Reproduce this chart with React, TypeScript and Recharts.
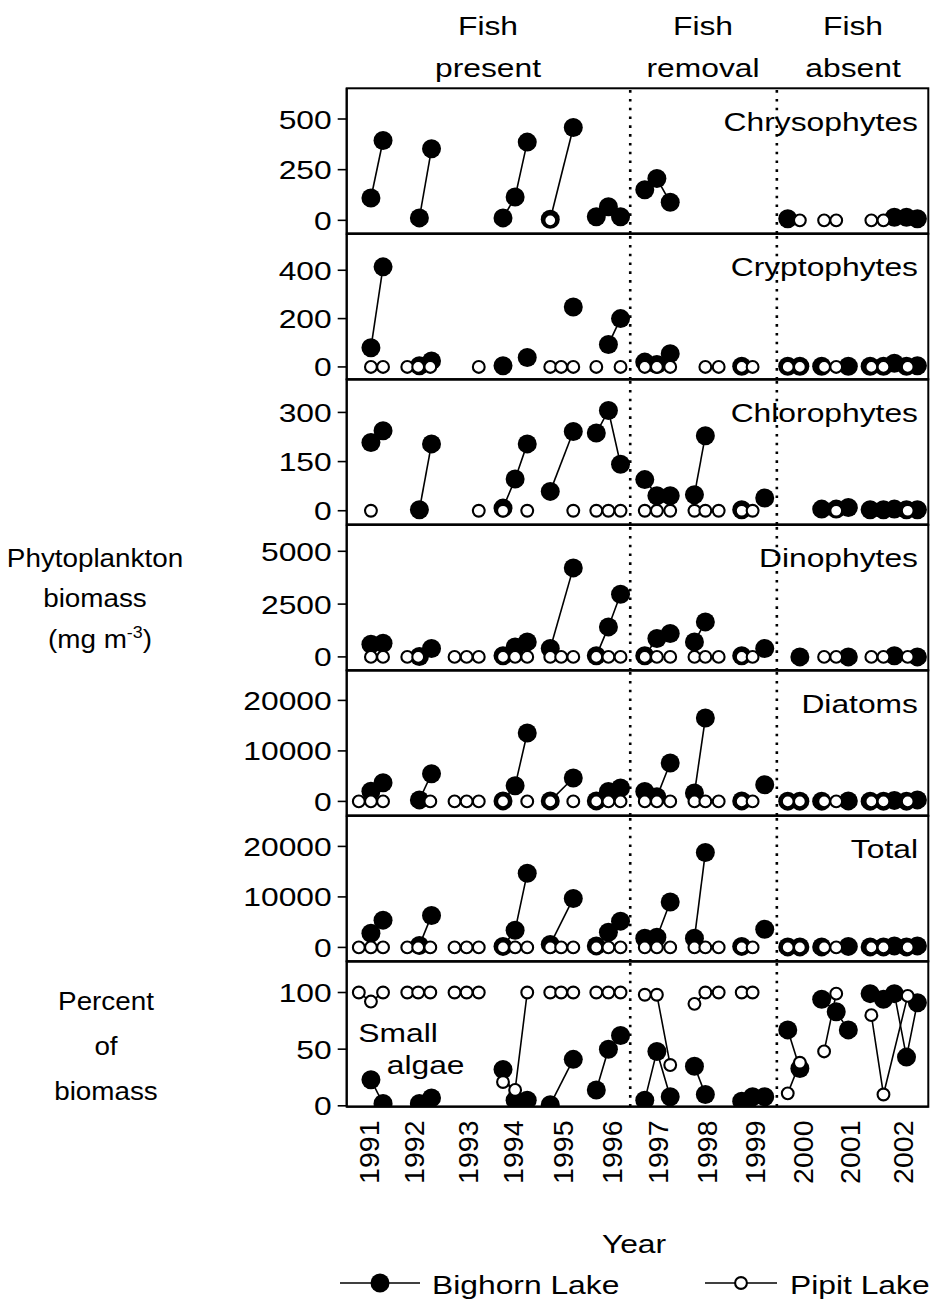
import React from 'react';
import { ScatterChart, Scatter, XAxis, YAxis, ReferenceLine } from 'recharts';

const FONT = '"Liberation Sans", Arial, Helvetica, sans-serif';
const FS = 26.5;
const SX = 1.2;
const N = null;

// sampling times on the shared time axis: one unit = one tick (a quarter year), 0 = mid 1990
const bighornYear = [1991, 1991, 1992, 1992, 1994, 1994, 1994, 1995, 1995, 1996, 1996, 1996, 1997, 1997, 1997, 1998, 1998, 1999, 1999, 1999, 2000, 2000, 2001, 2001, 2001, 2002, 2002, 2002, 2002, 2002];
const bighornTime = [2.0, 3.0, 6.0, 7.0, 12.9, 13.9, 14.9, 16.8, 18.7, 20.6, 21.6, 22.6, 24.6, 25.6, 26.7, 28.7, 29.6, 32.6, 33.5, 34.5, 36.4, 37.4, 39.2, 40.4, 41.4, 43.2, 44.3, 45.2, 46.2, 47.1];
const pipitYear = [1991, 1991, 1991, 1992, 1992, 1992, 1993, 1993, 1993, 1994, 1994, 1994, 1995, 1995, 1995, 1996, 1996, 1996, 1997, 1997, 1997, 1998, 1998, 1998, 1999, 1999, 2000, 2000, 2001, 2001, 2002, 2002, 2002];
const pipitTime = [1.0, 2.0, 3.0, 5.0, 5.9, 6.9, 8.9, 9.9, 10.9, 12.9, 13.9, 14.9, 16.8, 17.7, 18.7, 20.6, 21.6, 22.6, 24.6, 25.6, 26.7, 28.7, 29.6, 30.7, 32.6, 33.5, 36.4, 37.4, 39.4, 40.4, 43.3, 44.3, 46.3];

// x axis
const slotTicks = Array.from({ length: 49 }, (_, i) => i);
const yearLabels = ['1991', '1992', '1993', '1994', '1995', '1996', '1997', '1998', '1999', '2000', '2001', '2002'];
const yearLabelTime = [1.8, 5.5, 10.0, 13.7, 17.8, 21.9, 25.7, 29.7, 33.7, 37.6, 41.5, 45.9];
const periodBreaks = [23.4, 35.5];

// biomass, mg m-3 (null = not plotted)
const chrysoBighorn = [110, 394, 12, 353, 12, 115, 386, 5, 458, 18, 67, 18, 151, 206, 89, N, N, N, N, N, 8, N, N, N, N, N, N, 15, 15, 8];
const chrysoPipit = [N, N, N, N, N, N, N, N, N, N, N, N, 0, N, N, N, N, N, N, N, N, N, N, N, N, N, N, 0, 0, 0, 0, 0, N];
const cryptoBighorn = [79, 414, 5, 25, 5, N, 39, N, 248, N, 93, 200, 20, 10, 55, N, N, 3, N, N, 3, 3, 3, N, 3, 3, 3, 15, 3, 5];
const cryptoPipit = [N, 0, 0, 0, 0, 0, N, N, 0, N, N, N, 0, 0, 0, 0, N, 0, 0, 0, 0, N, 0, 0, 0, 0, 0, 0, 0, 0, 0, 0, 0];
const chloroBighorn = [208, 244, 3, 204, 8, 97, 204, 59, 242, 237, 306, 142, 95, 46, 46, 49, 229, 3, N, 39, N, N, 5, 5, 10, 3, 3, 5, 3, 3];
const chloroPipit = [N, 0, N, N, N, N, N, N, 0, 0, N, 0, N, N, 0, 0, 0, 0, 0, 0, 0, 0, 0, 0, 0, 0, N, N, N, 0, N, N, 0];
const dinoBighorn = [600, 650, 20, 398, 50, 473, 710, 400, 4214, 50, 1420, 2970, 50, 870, 1108, 710, 1657, 50, N, 398, N, 0, N, N, 0, N, N, 50, N, 0];
const dinoPipit = [N, 0, 0, 0, 0, N, 0, 0, 0, 0, 0, 0, 0, 0, 0, 0, 0, 0, 0, 0, 0, 0, 0, 0, 0, 0, N, N, 0, 0, 0, 0, 0];
const diatomBighorn = [2000, 3700, 300, 5480, 100, 3100, 13540, 100, 4630, 100, 1980, 2650, 1980, 900, 7600, 1660, 16500, 100, N, 3300, 50, 50, 50, N, 100, 50, 50, 200, 50, 300];
const diatomPipit = [0, 0, 0, N, N, 0, 0, 0, 0, 0, N, 0, 0, N, 0, 0, 0, 0, 0, 0, 0, 0, 0, 0, 0, 0, 0, 0, 0, 0, 0, 0, 0];
const totalBighorn = [2800, 5400, 400, 6300, 200, 3400, 14700, 600, 9700, 300, 3000, 5200, 1800, 2000, 9000, 1800, 18800, 200, N, 3600, 100, 100, 100, N, 200, 100, 100, 300, 100, 300];
const totalPipit = [0, 0, 0, 0, 0, 0, 0, 0, 0, 0, 0, 0, 0, 0, 0, 0, 0, 0, 0, 0, 0, 0, 0, 0, 0, 0, 0, 0, 0, 0, 0, 0, 0];
// percent of biomass as small algae
const smallBighorn = [23, 2, 2, 7, 32, 5, 5, 1, 41, 14, 50, 62, 5, 48, 8, 35, 10, 4, 8, 8, 67, 33, 94, 83, 67, 99, 94, 99, 43, 91];
const smallPipit = [100, 92, 100, 100, 100, 100, 100, 100, 100, 21, 14, 100, 100, 100, 100, 100, 100, 100, 98, 98, 36, 90, 100, 100, 100, 100, 11, 38, 48, 99, 80, 10, 97];

const panels = [
  { name: 'Chrysophytes', big: chrysoBighorn, pip: chrysoPipit, domain: [-65, 653], ticks: [0, 250, 500] },
  { name: 'Cryptophytes', big: cryptoBighorn, pip: cryptoPipit, domain: [-52, 550], ticks: [0, 200, 400] },
  { name: 'Chlorophytes', big: chloroBighorn, pip: chloroPipit, domain: [-42, 402], ticks: [0, 150, 300] },
  { name: 'Dinophytes', big: dinoBighorn, pip: dinoPipit, domain: [-644, 6245], ticks: [0, 2500, 5000] },
  { name: 'Diatoms', big: diatomBighorn, pip: diatomPipit, domain: [-2790, 26020], ticks: [0, 10000, 20000] },
  { name: 'Total', big: totalBighorn, pip: totalPipit, domain: [-2790, 26020], ticks: [0, 10000, 20000] },
  { name: '', big: smallBighorn, pip: smallPipit, domain: [-0.6, 127.8], ticks: [0, 50, 100] },
];

const W = 938;
const PLOT_L = 346.7;
const PLOT_R = 928.3;
const TOP = 88.3;
const PH = 145.5;

type Pt = { t: number; v: number };

// split a lake's series into runs: same year, no gaps
function toRuns(times: number[], years: number[], vals: (number | null)[]): Pt[][] {
  const out: Pt[][] = [];
  let cur: Pt[] = [];
  vals.forEach((v, i) => {
    if (v == null || (i > 0 && years[i] !== years[i - 1])) {
      if (cur.length) out.push(cur);
      cur = [];
    }
    if (v != null) cur.push({ t: times[i], v });
  });
  if (cur.length) out.push(cur);
  return out;
}

const BigDot = (p: any) => <circle cx={p.cx} cy={p.cy} r={9.5} fill="#000" />;
const OpenDot = (p: any) => <circle cx={p.cx} cy={p.cy} r={5.9} fill="#fff" stroke="#000" strokeWidth={2.1} />;

const YTick = (p: any) => (
  <text transform={`translate(${p.x - 4},${p.y}) scale(${SX},1)`} dy="0.36em" textAnchor="end" fontFamily={FONT} fontSize={FS} fill="#000">
    {p.payload.value}
  </text>
);

const YearTick = (p: any) => {
  const i = yearLabelTime.indexOf(p.payload.value);
  return (
    <text transform={`translate(${p.x},${p.y}) rotate(-90)`} dy="0.36em" textAnchor="end" fontFamily={FONT} fontSize={28.5} fill="#000">
      {yearLabels[i]}
    </text>
  );
};

const Panel = ({ idx }: { idx: number }) => {
  const p = panels[idx];
  const last = idx === panels.length - 1;
  const bigRuns = toRuns(bighornTime, bighornYear, p.big);
  const pipRuns = toRuns(pipitTime, pipitYear, p.pip);
  return (
    <div style={{ position: 'absolute', left: 0, top: TOP + idx * PH }}>
      <ScatterChart width={W} height={PH + 12 + (last ? 80 : 0)} margin={{ top: 0, right: W - PLOT_R, bottom: 0, left: 0 }}>
        <XAxis xAxisId={0} type="number" dataKey="t" domain={[0, 48]} ticks={slotTicks} interval={0} tick={false}
          tickSize={7} height={12} allowDataOverflow axisLine={{ stroke: '#000', strokeWidth: 2 }} tickLine={{ stroke: '#000', strokeWidth: 1.6 }} />
        {last && (
          <XAxis xAxisId="yr" type="number" dataKey="t" domain={[0, 48]} ticks={yearLabelTime} interval={0} tick={<YearTick />}
            tickSize={0} tickMargin={2} height={80} allowDataOverflow axisLine={false} tickLine={false} />
        )}
        <YAxis type="number" dataKey="v" domain={p.domain} ticks={p.ticks} interval={0} width={PLOT_L} tickSize={9}
          tick={<YTick />} allowDataOverflow axisLine={{ stroke: '#000', strokeWidth: 2 }} tickLine={{ stroke: '#000', strokeWidth: 1.6 }} />
        {periodBreaks.map((b) => (
          <ReferenceLine key={b} x={b} stroke="#000" strokeWidth={2.6} strokeDasharray="2.6 6.2" />
        ))}
        {bigRuns.map((r, i) => (
          <Scatter key={'b' + i} data={r} line={r.length > 1 ? { stroke: '#000', strokeWidth: 1.6 } : false}
            shape={BigDot} isAnimationActive={false} />
        ))}
        {pipRuns.map((r, i) => (
          <Scatter key={'p' + i} data={r} line={r.length > 1 ? { stroke: '#000', strokeWidth: 1.6 } : false}
            shape={OpenDot} isAnimationActive={false} />
        ))}
      </ScatterChart>
    </div>
  );
};

const T = ({ x, y, anchor = 'start', sx = SX, size = FS, children }: any) => (
  <text transform={`translate(${x},${y}) scale(${sx},1)`} textAnchor={anchor} fontFamily={FONT} fontSize={size} fill="#000">
    {children}
  </text>
);

const headers = [
  { top: 'Fish', bottom: 'present', x: 488 },
  { top: 'Fish', bottom: 'removal', x: 703 },
  { top: 'Fish', bottom: 'absent', x: 853 },
];

export default function App() {
  return (
    <div style={{ position: 'absolute', left: 0, top: 0, width: W, height: 1305, background: '#fff' }}>
      {panels.map((_, i) => (
        <Panel key={i} idx={i} />
      ))}
      <svg width={W} height={1305} style={{ position: 'absolute', left: 0, top: 0, pointerEvents: 'none' }}>
        {panels.map((p, i) => (
          <g key={i}>
            <rect x={PLOT_L} y={TOP + i * PH} width={PLOT_R - PLOT_L} height={PH} fill="none" stroke="#000" strokeWidth={2} />
            {p.name && (
              <T x={918} y={TOP + i * PH + 42.5} anchor="end">
                {p.name}
              </T>
            )}
          </g>
        ))}
        {headers.map((h) => (
          <g key={h.bottom}>
            <T x={h.x} y={35} anchor="middle">{h.top}</T>
            <T x={h.x} y={77} anchor="middle">{h.bottom}</T>
          </g>
        ))}
        <T x={95} y={567} anchor="middle" sx={1.05}>Phytoplankton</T>
        <T x={95} y={607} anchor="middle" sx={1.05}>biomass</T>
        <text transform={`translate(100,648) scale(1.05,1)`} textAnchor="middle" fontFamily={FONT} fontSize={FS} fill="#000">
          (mg m<tspan dy={-10} fontSize={17}>-3</tspan><tspan dy={10}>)</tspan>
        </text>
        <T x={106} y={1010} anchor="middle" sx={1.05}>Percent</T>
        <T x={106} y={1055} anchor="middle" sx={1.05}>of</T>
        <T x={106} y={1100} anchor="middle" sx={1.05}>biomass</T>
        <T x={358.3} y={1041.7}>Small</T>
        <T x={386.7} y={1074}>algae</T>
        <T x={634} y={1253} anchor="middle">Year</T>
        <line x1={340} y1={1283} x2={420} y2={1283} stroke="#000" strokeWidth={1.6} />
        <circle cx={380} cy={1283} r={9.5} fill="#000" />
        <T x={432} y={1294}>Bighorn Lake</T>
        <line x1={705} y1={1283} x2={777} y2={1283} stroke="#000" strokeWidth={1.6} />
        <circle cx={741} cy={1283} r={5.9} fill="#fff" stroke="#000" strokeWidth={2.1} />
        <T x={790} y={1294}>Pipit Lake</T>
      </svg>
    </div>
  );
}
